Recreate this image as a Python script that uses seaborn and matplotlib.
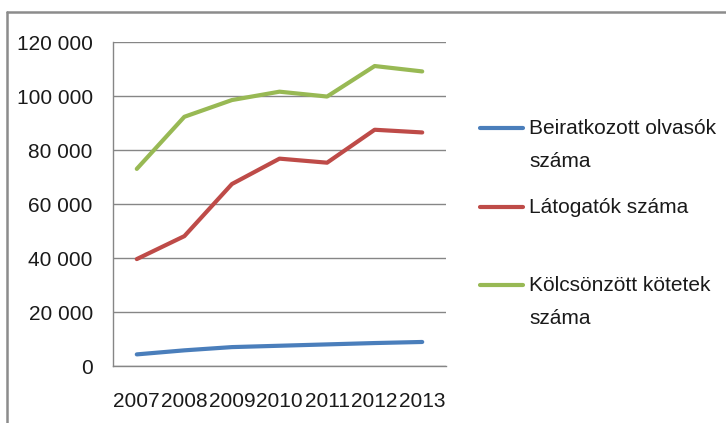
import pandas as pd
import seaborn as sns
import matplotlib.pyplot as plt
from matplotlib.lines import Line2D

# Adatok
years = ["2007", "2008", "2009", "2010", "2011", "2012", "2013"]
olvasok = [4300, 5800, 7000, 7500, 8000, 8500, 8900]
latogatok = [39600, 48100, 67400, 76800, 75300, 87500, 86500]
kotetek = [73000, 92300, 98500, 101600, 99800, 111100, 109100]

series_names = ["Beiratkozott olvasók\nszáma", "Látogatók száma", "Kölcsönzött kötetek\nszáma"]
colors = ["#4A7EBB", "#BE4B48", "#98B954"]

df = pd.DataFrame({
    "ev": years * 3,
    "ertek": olvasok + latogatok + kotetek,
    "sorozat": [series_names[0]] * 7 + [series_names[1]] * 7 + [series_names[2]] * 7,
})

sns.set_style("white")
plt.rcParams["font.family"] = ["Liberation Sans", "DejaVu Sans"]

fig = plt.figure(figsize=(7.26, 4.23), dpi=100)
ax = fig.add_axes([113 / 726, 1 - 366 / 423, (446 - 113) / 726, (366 - 42) / 423])

sns.lineplot(data=df, x="ev", y="ertek", hue="sorozat", palette=colors,
             linewidth=3, ax=ax, legend=False, sort=False)

ax.set_xlim(-0.5, 6.5)
ax.set_ylim(0, 120000)
ax.set_yticks(range(0, 120001, 20000))
ax.set_yticklabels([f"{v:,}".replace(",", " ") for v in range(0, 120001, 20000)])

# kategória-határokon tick, közepén címke
ax.set_xticks([i - 0.5 for i in range(8)])
ax.set_xticklabels([])
ax.set_xticks(range(7), minor=True)
ax.set_xticklabels(years, minor=True)
ax.tick_params(axis="x", which="major", length=6.5, width=1, color="#868686", direction="out")
ax.tick_params(axis="x", which="minor", length=0, pad=19, labelsize=15, labelcolor="#1a1a1a")
ax.tick_params(axis="y", length=4.5, width=1, color="#868686", direction="out", pad=10,
               labelsize=15, labelcolor="#1a1a1a")

ax.grid(axis="y", color="#868686", linewidth=1)
for s in ["top", "right"]:
    ax.spines[s].set_visible(False)
for s in ["left", "bottom"]:
    ax.spines[s].set_color("#868686")
    ax.spines[s].set_linewidth(1)
ax.set_xlabel("")
ax.set_ylabel("")

# jelmagyarázat
leg_y = [128, 207, 285]
for name, c, y in zip(series_names, colors, leg_y):
    fig.add_artist(Line2D([480 / 726, 523 / 726], [1 - y / 423, 1 - y / 423],
                          color=c, linewidth=3, solid_capstyle="round"))
    fig.text(529 / 726, 1 - (y - 9) / 423, name, fontsize=15, color="#1a1a1a",
             va="top", ha="left", linespacing=1.95)

# keret
fig.add_artist(Line2D([7 / 726, 1], [1 - 12 / 423, 1 - 12 / 423], color="#8c8c8c", linewidth=1.8))
fig.add_artist(Line2D([7 / 726, 7 / 726], [0, 1 - 12 / 423], color="#8c8c8c", linewidth=1.8))

fig.savefig("out.png", dpi=100)
